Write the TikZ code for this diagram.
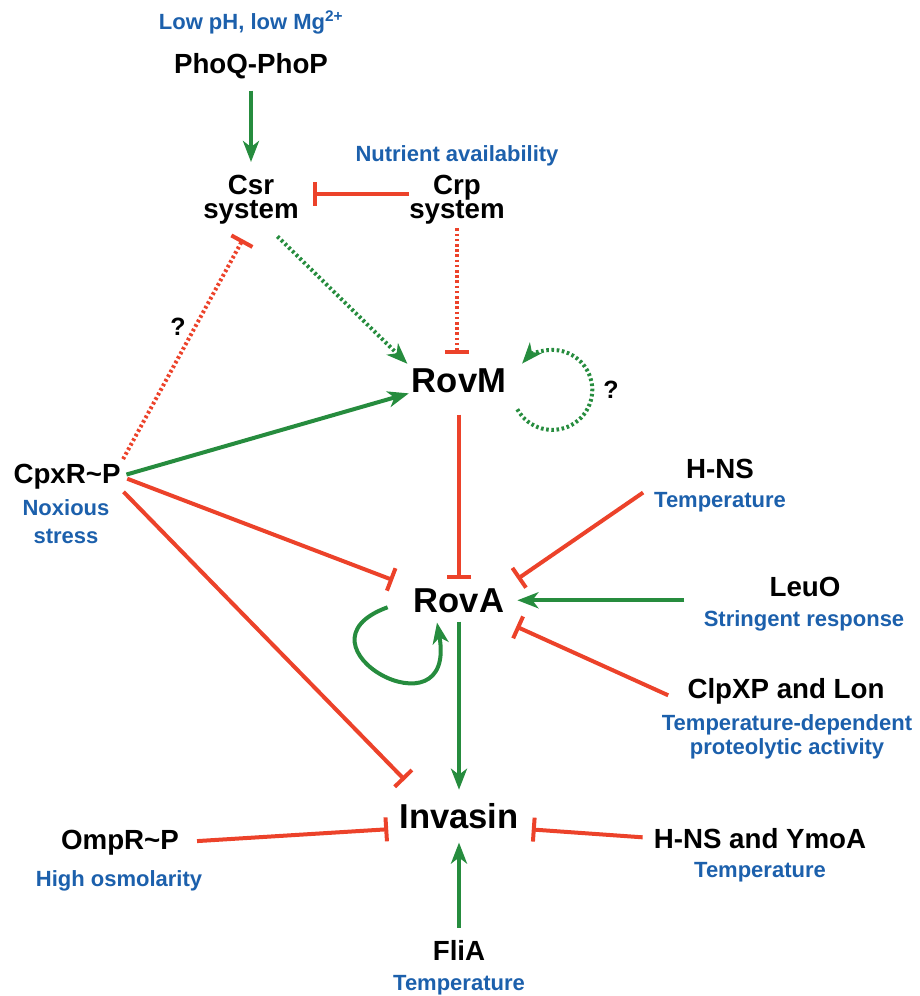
\documentclass[tikz,border=0pt]{standalone}
\usepackage{fontspec}
\setmainfont{Liberation Sans}
\usepackage{tikz}
\usetikzlibrary{arrows.meta}
\definecolor{actgreen}{RGB}{38,140,62}
\definecolor{inhred}{RGB}{236,66,42}
\definecolor{cueblue}{RGB}{28,96,172}
\setlength{\lineskiplimit}{-30pt}

\begin{document}
\begin{tikzpicture}[x=1pt,y=-1pt,
  gene/.style={font=\bfseries\fontsize{27.7}{24}\selectfont, inner sep=0pt},
  hub/.style={font=\bfseries\fontsize{34.6}{40}\selectfont, inner sep=0pt},
  cue/.style={font=\bfseries\fontsize{22}{24}\selectfont, text=cueblue, inner sep=0pt},
  act/.style={draw=actgreen, line width=4pt, -{Stealth[length=21pt,width=16pt,inset=6pt]}},
  inh/.style={draw=inhred, line width=4pt, -{Bar[width=24pt]}},
  unsure/.style={dash pattern=on 2.6pt off 2.6pt}]
  \useasboundingbox (0,0) rectangle (919,996);

  % Regulators and targets
  \node[cue, anchor=base] (lowph) at (251,29) {Low pH, low Mg\textsuperscript{2+}};
  \node[gene, anchor=base] (phoq) at (251,73) {PhoQ-PhoP};
  \node[cue, anchor=base] (nutr) at (457,161) {Nutrient availability};
  \node[gene, anchor=north, align=center] (csr) at (251,175) {Csr\\system};
  \node[gene, anchor=north, align=center] (crp) at (457,175) {Crp\\system};
  \node[gene, anchor=base, font=\bfseries\fontsize{25}{25}\selectfont] (q1) at (178,335) {?};
  \node[hub, anchor=base] (rovm) at (459,392) {RovM};
  \node[gene, anchor=base, font=\bfseries\fontsize{25}{25}\selectfont] (q2) at (611,398) {?};
  \node[gene, anchor=base] (cpx) at (67,483) {CpxR\textasciitilde P};
  \node[cue, anchor=north, align=center, font=\bfseries\fontsize{22}{28}\selectfont] (noxious) at (66,499) {Noxious\\stress};
  \node[hub, anchor=base] (rova) at (459,612) {RovA};
  \node[gene, anchor=base] (hns) at (720,478) {H-NS};
  \node[cue, anchor=base] (hnstemp) at (720,507) {Temperature};
  \node[gene, anchor=base] (leuo) at (805,596) {LeuO};
  \node[cue, anchor=base] (stringent) at (804,626) {Stringent response};
  \node[gene, anchor=base] (clpxp) at (786,698) {ClpXP and Lon};
  \node[cue, anchor=north, align=center] (tempdep) at (787,714) {Temperature-dependent\\proteolytic activity};
  \node[hub, anchor=base] (invasin) at (459,828) {Invasin};
  \node[gene, anchor=base] (ompr) at (120,849) {OmpR\textasciitilde P};
  \node[cue, anchor=base] (highosm) at (119,886) {High osmolarity};
  \node[gene, anchor=base] (hnsymoa) at (760,848) {H-NS and YmoA};
  \node[cue, anchor=base] (ymoatemp) at (760,877) {Temperature};
  \node[gene, anchor=base] (flia) at (459,960) {FliA};
  \node[cue, anchor=base] (fliatemp) at (459,990) {Temperature};

  % Top part
  \draw[act, shorten <=12pt, shorten >=13pt] (phoq.south) -- (csr.north);
  \draw[inh, shorten >=14pt] ([yshift=6pt]crp.west) -- ([yshift=6pt]csr.east);
  \draw[inh, unsure, shorten <=4pt, shorten >=14pt] (crp.south) -- (crp.south |- rovm.north);
  \draw[act, unsure, shorten <=17pt, shorten >=6pt] (csr.-60) -- (rovm.north west);
  \draw[inh, unsure, shorten <=5pt, shorten >=17pt] (cpx.north east) -- (csr.south);

  % CpxR~P
  \draw[act, shorten <=6pt, shorten >=3pt] (cpx.east) -- (rovm.south west);
  \draw[inh, shorten <=7pt, shorten >=22pt] (cpx.east) -- (rova.north west);
  \draw[inh, shorten <=4pt, shorten >=32pt] (cpx.south east) -- (invasin.158);

  % RovM loop
  \draw[act, unsure] ([shift={(11,29)}]rovm.east) arc[start angle=151, end angle=-139, radius=40];
  \draw[inh, shorten <=22pt, shorten >=9pt] (rovm.south) -- (rova.north);

  % Into RovA
  \draw[inh, shorten <=52pt, shorten >=16pt] (hns.171) -- (rova.north east);
  \draw[act, shorten <=85pt, shorten >=13pt] (leuo.west |- rova.east) -- (rova.east);
  \draw[inh, shorten <=21pt, shorten >=34pt] (clpxp.south west) -- (rova.-25);
  \draw[act] ([shift={(-26,7)}]rova.west) .. controls +(160:110) and +(80:120) .. ([shift={(-22,10)}]rova.south); % self loop

  % Into Invasin
  \draw[act, shorten <=9pt, shorten >=13pt] (rova.south) -- (invasin.north);
  \draw[inh, shorten <=18pt, shorten >=11pt] (ompr.east) -- (invasin.south west);
  \draw[inh, shorten <=11pt, shorten >=13pt] (hnsymoa.west) -- (invasin.south east);
  \draw[act, shorten <=12pt, shorten >=14pt] (flia.north) -- (invasin.south);
\end{tikzpicture}
\end{document}
